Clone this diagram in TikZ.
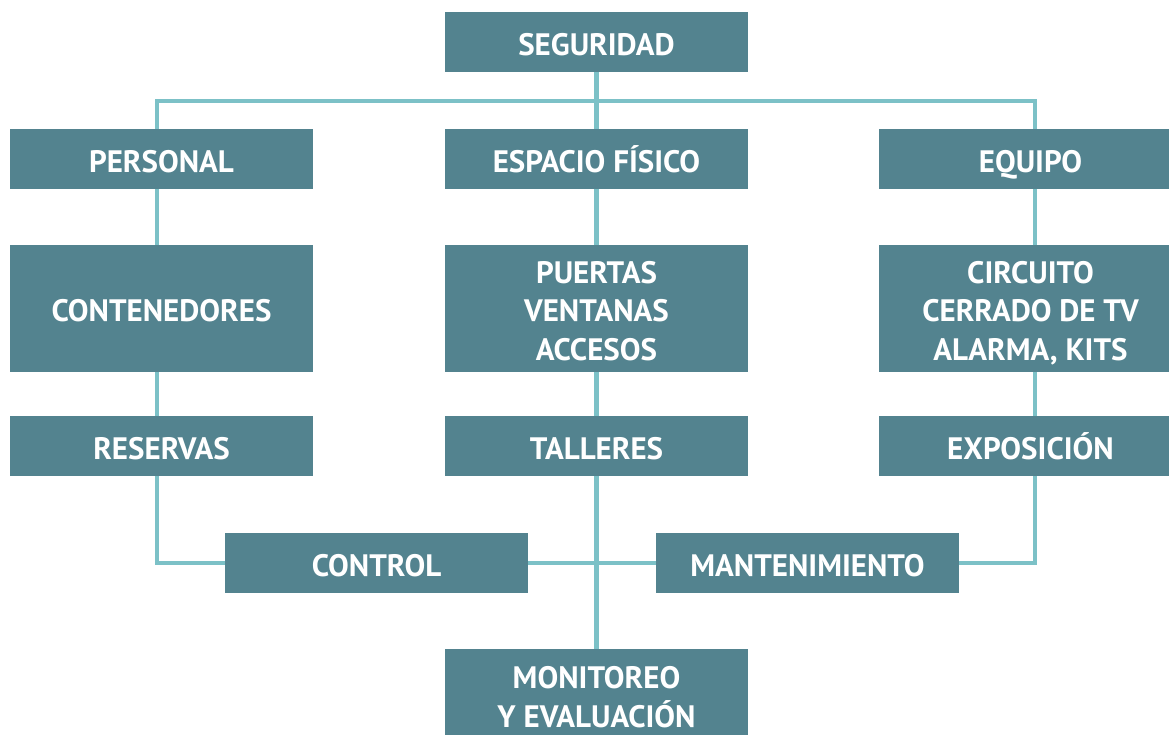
\documentclass[tikz,border=0pt]{standalone}
\usepackage{fontspec}
\setmainfont{PT Sans}
\usetikzlibrary{backgrounds}
\definecolor{boxc}{HTML}{53838F}
\definecolor{linec}{HTML}{7CC1C7}
\newcommand{\topstrut}{\rule{0pt}{26.7pt}}
\begin{document}
\begin{tikzpicture}[x=1pt,y=-1pt,
  box/.style={fill=boxc,text=white,font=\fontsize{31}{38.5}\selectfont\bfseries,
    minimum width=303pt,minimum height=60pt,inner sep=0pt,align=center,anchor=center,
    text height=27.7pt,text depth=0pt},
  tall/.style={box,minimum height=127pt,text height=26.7pt},
  multi/.style={box,minimum height=127pt,text height=,text depth=0pt},
  conn/.style={draw=linec,line width=4.5pt}]
\useasboundingbox (0,0) rectangle (1169,735);
\node[box] (seg) at (596.5,42) {SEGURIDAD};
\node[box] (pers) at (161.5,159) {PERSONAL};
\node[box] (esp) at (596.5,159) {ESPACIO FÍSICO};
\node[box] (equ) at (1030.5,159) {EQUIPO};
\node[tall] (cont) at (161.5,308.5) {CONTENEDORES};
\node[multi] (puer) at (596.5,308.5) {\topstrut PUERTAS\\VENTANAS\\ACCESOS};
\node[multi] (circ) at (1030.5,308.5) {\topstrut CIRCUITO\\CERRADO DE TV\\ALARMA, KITS};
\node[box] (res) at (161.5,446) {RESERVAS};
\node[box] (tall) at (596.5,446) {TALLERES};
\node[box] (expo) at (1030.5,446) {EXPOSICIÓN};
\node[box] (ctrl) at (376.5,563) {CONTROL};
\node[box] (mant) at (807.5,563) {MANTENIMIENTO};
\node[multi,minimum height=96pt] (moni) at (596.5,697) {MONITOREO\\Y EVALUACIÓN};
\coordinate (L) at (157,101);
\coordinate (R) at (1035,101);
\begin{scope}[on background layer]
\draw[conn] (seg.south) -- (esp.north);
\draw[conn] (pers.north -| L) -- (L) -- (R) -- (equ.north -| R);
\draw[conn] (pers.south -| L) -- (cont.north -| L);
\draw[conn] (cont.south -| L) -- (res.north -| L);
\draw[conn] (res.south -| L) |- (ctrl.west);
\draw[conn] (esp.south) -- (puer.north);
\draw[conn] (puer.south) -- (tall.north);
\draw[conn] (tall.south) -- (moni.north);
\draw[conn] (ctrl.east) -- (mant.west);
\draw[conn] (equ.south -| R) -- (circ.north -| R);
\draw[conn] (circ.south -| R) -- (expo.north -| R);
\draw[conn] (expo.south -| R) |- (mant.east);
\end{scope}
\end{tikzpicture}
\end{document}
